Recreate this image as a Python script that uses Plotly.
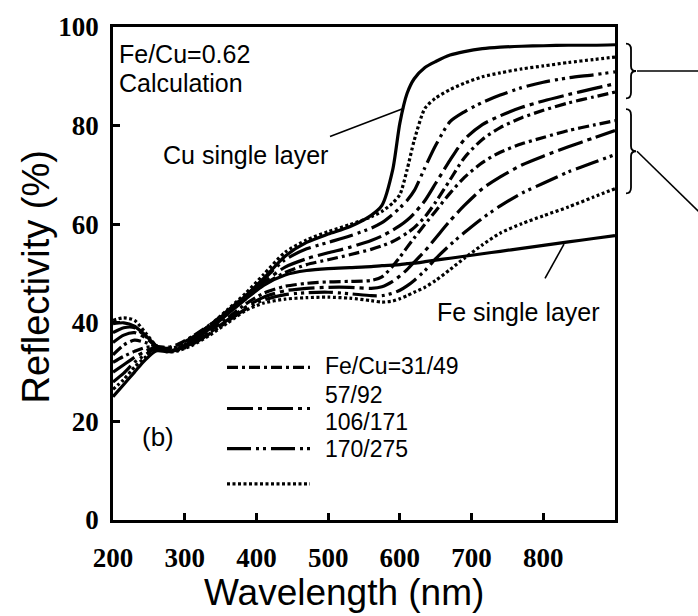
import plotly.graph_objects as go

# ---------------- data ----------------
wavelength = [200, 215, 230, 245, 260, 275, 290, 310, 335, 360, 385, 410, 440, 470, 500, 530,
              560, 575, 590, 600, 610, 620, 635, 650, 670, 690, 715, 740, 770, 800, 835, 870, 900]

cu_single = [25, 27.5, 30, 32.5, 34.3, 34.2, 34.5, 36.2, 39, 42.2, 45.5, 49, 53.5, 56.3, 58, 59.5,
             61.8, 63.8, 71, 80.5, 86.5, 89.5, 91.8, 93, 94.3, 95, 95.6, 95.9, 96.1, 96.2, 96.3, 96.3, 96.4]
fe_single = [39.8, 40, 39.3, 37.5, 35.4, 34.2, 34.7, 36.3, 38.8, 41.8, 44.8, 47.6, 49.7, 50.6, 51, 51.2,
             51.4, 51.6, 51.7, 51.8, 52, 52.1, 52.4, 52.7, 53.1, 53.5, 54, 54.5, 55.1, 55.7, 56.4, 57.1, 57.7]

# upper group (curves approaching the Cu single layer)
up_31_49 = [32, 33.2, 34.2, 35, 35.2, 35, 35.6, 37.2, 39.6, 42.2, 45, 47.7, 50.2, 51.8, 52.8, 53.8,
            54.9, 55.6, 56.5, 57.3, 58.2, 59.3, 61.5, 64.5, 69, 73.5, 77.2, 79.6, 81.6, 83.1, 84.6, 85.8, 86.8]
up_57_92 = [30, 31.5, 33, 34.2, 35, 34.8, 35.4, 37, 39.5, 42.3, 45.2, 48.2, 51.3, 53, 54.2, 55.3,
            56.7, 57.6, 58.8, 59.7, 60.8, 62.2, 64.8, 68.3, 73, 77.2, 80.2, 82, 83.7, 85, 86.3, 87.5, 88.5]
up_106_171 = [28, 29.8, 32, 33.5, 34.8, 34.6, 35.2, 36.8, 39.5, 42.5, 45.5, 48.8, 52.8, 55, 56.3, 57.6,
              59.2, 60.3, 62, 63.3, 64.8, 66.8, 71.5, 76, 80.8, 82.8, 84.7, 86.2, 87.7, 88.8, 89.7, 90.3, 90.9]
up_170_275 = [26.5, 28.5, 31, 33, 34.6, 34.4, 34.8, 36.5, 39.5, 42.7, 46, 49.8, 54.3, 56.8, 58.5, 59.9,
              61.5, 62.6, 64.3, 66, 71, 77, 83.5, 85.6, 87.3, 88.6, 89.9, 90.7, 91.5, 92.1, 92.8, 93.4, 93.9]

# lower group (curves approaching the Fe single layer)
lo_31_49 = [33.5, 35.5, 36.5, 36, 35.2, 34.3, 34.6, 36, 38.3, 41, 43.8, 46, 47.4, 48, 48.3, 48.4,
            48.6, 49.3, 51.5, 53.3, 55.3, 57.2, 60, 62.7, 66.3, 69.5, 72.5, 74.6, 76.3, 77.6, 79, 80.1, 81]
lo_57_92 = [36, 37.5, 38, 37, 35.3, 34.2, 34.5, 35.8, 38, 40.6, 43.2, 45.2, 46.5, 47, 47.2, 47.2,
            47, 47.3, 48.4, 49.5, 50.8, 52.3, 54.6, 57.2, 60.7, 63.8, 67.2, 69.6, 72, 73.8, 75.7, 77.5, 79]
lo_106_171 = [38, 39, 39, 37.3, 35.3, 34.2, 34.4, 35.6, 37.8, 40.3, 42.8, 44.6, 45.7, 46.1, 46.2, 45.9,
              45.5, 45.5, 46, 46.6, 47.5, 48.6, 50.6, 53, 55.8, 58.3, 61.2, 63.7, 66.3, 68.3, 70.6, 72.5, 74.1]
lo_170_275 = [40.5, 41, 40.5, 38, 35.4, 34.1, 34.3, 35.4, 37.5, 40, 42.5, 44, 44.8, 45.1, 45.2, 45,
              44.5, 44.2, 44.4, 44.9, 45.5, 46.2, 47.2, 48.6, 50.8, 53.1, 55.8, 58.2, 60.1, 61.7, 63.5, 65.5, 67.2]

x_ticks = [200, 300, 400, 500, 600, 700, 800]
y_ticks = [0, 20, 40, 60, 80, 100]
legend_labels = ["Fe/Cu=31/49", "57/92", "106/171", "170/275"]

# ---------------- styles ----------------
DASH = {
    "31/49": "11px,4px,3px,4px",
    "57/92": "26px,5px,4px,5px",
    "106/171": "24px,5px,3px,4px,3px,5px",
    "170/275": "3px,2.5px",
}
LW = 3.2

# ---------------- geometry helpers (pixel -> paper) ----------------
L, R, T, B = 113, 615, 16, 520
W_FIG, H_FIG = 698, 616


def px(x):
    return (x - L) / (R - L)


def py(y):
    return (B - y) / (B - T)


fig = go.Figure()


def add_curve(vals, dash):
    fig.add_trace(go.Scatter(
        x=wavelength, y=vals, mode="lines",
        line=dict(color="black", width=LW, dash=dash, shape="spline", smoothing=0.7),
        showlegend=False, hoverinfo="skip"))


add_curve(fe_single, "solid")
add_curve(cu_single, "solid")
add_curve(up_31_49, DASH["31/49"])
add_curve(up_57_92, DASH["57/92"])
add_curve(up_106_171, DASH["106/171"])
add_curve(up_170_275, DASH["170/275"])
add_curve(lo_31_49, DASH["31/49"])
add_curve(lo_57_92, DASH["57/92"])
add_curve(lo_106_171, DASH["106/171"])
add_curve(lo_170_275, DASH["170/275"])

shapes = []
annos = []

TXT = dict(family="Liberation Sans, Arial, sans-serif", color="black")


def text(s, x, y, size, anchor="left"):
    annos.append(dict(text=s, x=px(x), y=py(y), xref="paper", yref="paper",
                      xanchor=anchor, yanchor="middle", showarrow=False,
                      font=dict(size=size, **TXT)))


def seg(x0, y0, x1, y1, w=1.6, dash="solid"):
    shapes.append(dict(type="line", xref="paper", yref="paper",
                       x0=px(x0), y0=py(y0), x1=px(x1), y1=py(y1),
                       line=dict(color="black", width=w, dash=dash)))


def brace(xc, ytop, ybot):
    ym = (ytop + ybot) / 2
    pts = [
        ("M", [(xc - 5, ytop)]),
        ("Q", [(xc, ytop), (xc, ytop + 6)]),
        ("L", [(xc, ym - 5)]),
        ("Q", [(xc, ym), (xc + 5, ym)]),
        ("Q", [(xc, ym), (xc, ym + 5)]),
        ("L", [(xc, ybot - 6)]),
        ("Q", [(xc, ybot), (xc - 5, ybot)]),
    ]
    path = " ".join(c + " " + " ".join(f"{px(a):.5f},{py(b):.5f}" for a, b in p) for c, p in pts)
    shapes.append(dict(type="path", xref="paper", yref="paper", path=path,
                       line=dict(color="black", width=1.8)))


# text labels
text("Fe/Cu=0.62", 117, 44, 25)
text("Calculation", 117, 73, 25)
text("Cu single layer", 161, 147, 25)
text("Fe single layer", 435, 307, 25)
text("(b)", 140, 435, 26)

# pointer lines
seg(330, 128, 404, 99)
seg(545, 273, 564, 238)

# braces with leader lines
brace(631, 33, 89)
seg(637, 61, 700, 61)
brace(631, 100, 186)
seg(637, 143, 705, 211)

# legend (drawn manually, as in the figure)
legend_rows = [("31/49", 364), ("57/92", 406), ("106/171", 447), ("170/275", 483)]
for key, yy in legend_rows:
    seg(227, yy, 310, yy, w=LW, dash=DASH[key])
for lab, yy in zip(legend_labels, [363, 392, 420, 447]):
    text(lab, 323, yy, 23)

# axis titles
annos.append(dict(text="Wavelength (nm)", x=px(344), y=py(594), xref="paper", yref="paper",
                  xanchor="center", yanchor="middle", showarrow=False, font=dict(size=37, **TXT)))
annos.append(dict(text="Reflectivity (%)", x=px(36), y=py(272), xref="paper", yref="paper",
                  xanchor="center", yanchor="middle", showarrow=False, textangle=-90,
                  font=dict(size=38, **TXT)))

TICKFONT = dict(family="Liberation Serif, Times New Roman, serif", size=27, color="black", weight="bold")

fig.update_layout(
    width=W_FIG, height=H_FIG,
    margin=dict(l=L, r=W_FIG - R, t=T, b=H_FIG - B),
    plot_bgcolor="white", paper_bgcolor="white",
    shapes=shapes, annotations=annos,
    xaxis=dict(range=[200, 900], tickvals=x_ticks, ticktext=[str(v) for v in x_ticks],
               ticks="inside", ticklen=7, tickwidth=2.5, tickcolor="black",
               showline=True, linecolor="black", linewidth=2.8, mirror=True,
               showgrid=False, zeroline=False, tickfont=TICKFONT, ticklabelstandoff=12),
    yaxis=dict(range=[0, 100], tickvals=y_ticks, ticktext=[str(v) for v in y_ticks],
               ticks="inside", ticklen=7, tickwidth=2.5, tickcolor="black",
               showline=True, linecolor="black", linewidth=2.8, mirror=True,
               showgrid=False, zeroline=False, tickfont=TICKFONT, ticklabelstandoff=6),
)

fig.write_html("out.html")
